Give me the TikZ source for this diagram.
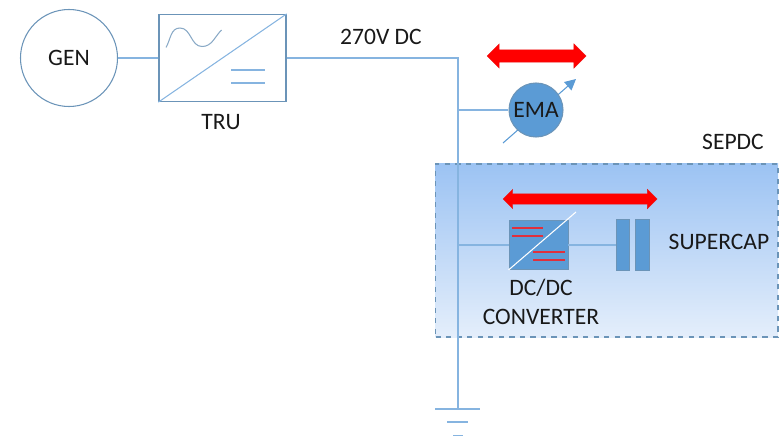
\documentclass[tikz,border=0pt]{standalone}
\usepackage{fontspec}
\setmainfont{Carlito}
\usetikzlibrary{arrows.meta,shapes.arrows}
\definecolor{linkblue}{HTML}{86B4E0}
\definecolor{boxblue}{HTML}{5B9BD5}
\definecolor{edgeblue}{HTML}{6B94B8}
\definecolor{topblue}{HTML}{9CC3F3}
\definecolor{lowblue}{HTML}{E4EEFB}
\definecolor{markred}{HTML}{E0303C}
\tikzset{
    wire/.style={draw=linkblue,line width=0.6pt},
    roundbox/.style={circle,draw=edgeblue,line width=0.6pt,inner sep=0pt},
    squarebox/.style={rectangle,draw=edgeblue,line width=0.7pt,inner sep=0pt},
    solidbox/.style={rectangle,draw=edgeblue,fill=boxblue,line width=0.5pt,inner sep=0pt},
    redarrow/.style={double arrow,fill=red,draw=red!85!gray,line width=0.2pt,inner xsep=0pt,double arrow head indent=0pt},
    caption/.style={inner sep=0pt,font=\fontsize{13.4}{16.4}\selectfont,text=black!90,align=center}
}

\begin{document}
\begin{tikzpicture}
            \useasboundingbox (0,0) rectangle (15.64,8.74);

            \node[rectangle,dashed,draw=edgeblue,line width=0.6pt,top color=topblue,bottom color=lowblue,minimum width=6.85cm,minimum height=3.46cm] (sepdc) at (12.135,3.73) {};
            \node[caption] (sepdclabel) at (14.66,5.90) {SEPDC};

            \node[roundbox,minimum size=1.94cm] (gen) at (1.38,7.58) {};
            \node[caption] (genlabel) at (1.38,7.58) {GEN};
            \node[squarebox,minimum width=2.54cm,minimum height=1.74cm] (tru) at (4.45,7.58) {};
            \node[caption] (trulabel) at (4.42,6.30) {TRU};
            \draw[wire] (tru.south west)--(tru.north east);
            \draw[draw=edgeblue!80,line width=0.6pt] (3.32,7.79) to[out=60,in=180] (3.60,8.18) to[out=0,in=180] (4.04,7.81) to[out=0,in=225] (4.43,8.14);
            \draw[wire] (4.62,7.34)--(5.30,7.34);
            \draw[wire] (4.62,7.08)--(5.30,7.08);
            \draw[wire] (gen)--(tru);

            \coordinate (buscorner) at (9.16,7.58);
            \coordinate (ematap) at (9.16,6.54);
            \coordinate (convtap) at (9.16,3.84);
            \coordinate (gnd) at (9.16,0.56);
            \draw[wire] (tru.east)--(buscorner)--(gnd);
            \node[caption] (buslabel) at (7.62,8.00) {270V DC};

            \coordinate (emastart) at (10.06,5.88);
            \coordinate (emaend) at (11.52,7.16);
            \draw[wire,draw=boxblue,-{Triangle[length=2.2mm,width=2.2mm]}] (emastart)--(emaend);
            \node[roundbox,fill=boxblue,minimum size=1.08cm] (ema) at (10.72,6.54) {};
            \node[caption] (emalabel) at (10.72,6.54) {EMA};
            \draw[wire] (ematap)--(ema);
            \node[redarrow,inner ysep=0.12cm,minimum height=1.98cm,minimum width=0.48cm,double arrow head extend=0.12cm] (emamove) at (10.73,7.62) {};

            \node[solidbox,minimum width=1.18cm,minimum height=0.98cm] (conv) at (10.77,3.84) {};
            \draw[white,line width=0.6pt] (conv.south west)--(11.52,4.50);
            \draw[markred,line width=0.6pt] (10.24,4.18)--(10.86,4.18);
            \draw[markred,line width=0.6pt] (10.24,4.02)--(10.86,4.02);
            \draw[markred,line width=0.6pt] (10.66,3.70)--(11.30,3.70);
            \draw[markred,line width=0.6pt] (10.66,3.54)--(11.30,3.54);
            \draw[wire] (convtap)--(conv);
            \node[caption] (convlabel) at (10.82,2.71) {DC/DC\\CONVERTER};

            \node[solidbox,minimum width=0.26cm,minimum height=1.02cm] (capa) at (12.45,3.84) {};
            \node[solidbox,minimum width=0.28cm,minimum height=1.02cm] (capb) at (12.84,3.84) {};
            \draw[wire] (conv)--(capa);
            \node[caption] (caplabel) at (14.38,3.90) {SUPERCAP};
            \node[redarrow,inner ysep=0.10cm,minimum height=3.08cm,minimum width=0.38cm,double arrow head extend=0.09cm] (convmove) at (11.60,4.76) {};

            \draw[wire] (8.70,0.56)--(gnd)--(9.60,0.56);
            \draw[wire] (8.94,0.30)--(9.36,0.30);
            \draw[wire] (9.06,0.03)--(9.26,0.03);
        \end{tikzpicture}
\end{document}
